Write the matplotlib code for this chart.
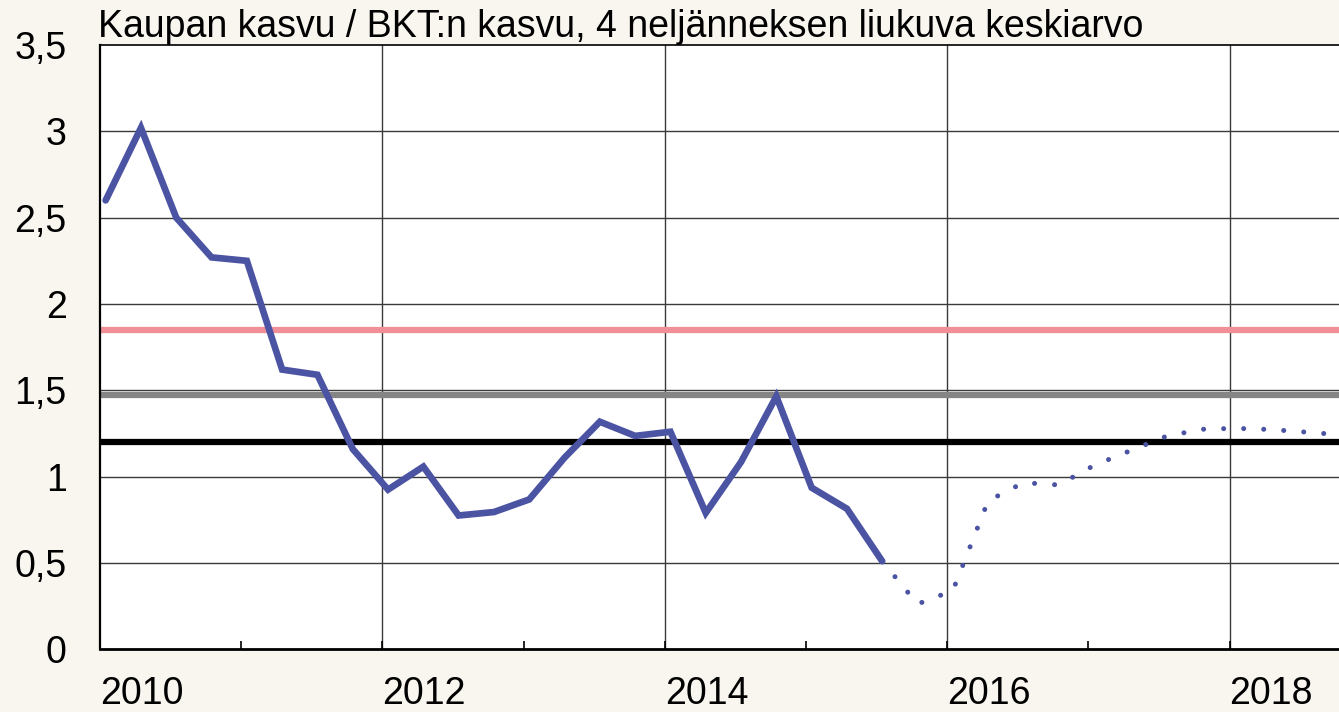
import matplotlib
matplotlib.use("Agg")
import matplotlib.pyplot as plt
import numpy as np
from matplotlib.ticker import FixedLocator, FuncFormatter

plt.rcParams['font.family'] = ['Liberation Sans', 'DejaVu Sans']

# neljännesvuosittaiset havainnot (4 nelj. liukuva keskiarvo)
toteutunut = [2.60, 3.02, 2.50, 2.27, 2.25, 1.62, 1.59, 1.16, 0.925, 1.058, 0.775, 0.795,
              0.868, 1.11, 1.318, 1.236, 1.26, 0.79, 1.085, 1.465, 0.936, 0.814, 0.51]
ennuste = [0.51, 0.262, 0.34, 0.86, 0.965, 0.952, 1.065, 1.148, 1.23, 1.274, 1.28,
           1.273, 1.258, 1.242]
alku = 2010.04          # ensimmäinen neljännes
ennuste_alku = 2015.54  # ennusteen alku (viimeinen havainto)

# vaakaviivat
taso_pinkki = 1.85
taso_harmaa = 1.475
taso_musta = 1.2

otsikko = "Kaupan kasvu / BKT:n kasvu, 4 neljänneksen liukuva keskiarvo"
vuodet = [2010, 2012, 2014, 2016, 2018]
y_ticks = [0, 0.5, 1, 1.5, 2, 2.5, 3, 3.5]

t1 = alku + 0.25 * np.arange(len(toteutunut))
t2 = ennuste_alku + 0.25 * np.arange(len(ennuste))

fig = plt.figure(figsize=(13.39, 7.12), dpi=100)
fig.patch.set_facecolor('#f9f5ef')
ax = fig.add_axes([100 / 1339, 1 - 649.3 / 712, 1 - 100 / 1339, (649.3 - 45) / 712])
ax.set_facecolor('white')

ax.set_xlim(2010, 2010 + 1239 / 141.2)
ax.set_ylim(0, 3.5)

# ruudukko
for v in y_ticks[1:-1]:
    ax.axhline(v, color='#3a3a3a', lw=1.0, zorder=1)
for yr in vuodet[1:]:
    ax.axvline(yr, color='#3a3a3a', lw=1.0, zorder=1)

ax.axhline(taso_pinkki, color='#f08f97', lw=4.5, zorder=2)
ax.axhline(taso_harmaa, color='#858585', lw=4.5, zorder=2)
ax.axhline(taso_musta, color='black', lw=4.5, zorder=2)

ax.plot(t1, toteutunut, color='#4b53a3', lw=4.8, solid_joinstyle='miter',
        solid_capstyle='round', zorder=4)
ax.plot(t2, ennuste, color='#4b53a3', lw=3.6, linestyle=(0.01, (0.01, 4.0)),
        dash_capstyle='round', zorder=4)

ax.spines['right'].set_visible(False)
ax.spines['bottom'].set_linewidth(2.0)
ax.spines['left'].set_linewidth(1.6)
ax.spines['top'].set_linewidth(1.2)

ax.xaxis.set_major_locator(FixedLocator(vuodet))
ax.xaxis.set_minor_locator(FixedLocator([2011, 2013, 2015, 2017]))
ax.xaxis.set_major_formatter(FuncFormatter(lambda x, p: "%d" % x))
ax.tick_params(axis='x', which='both', direction='in', length=5.8, width=1.2,
               labelsize=27, pad=19, top=False)
for lab in ax.get_xticklabels():
    lab.set_horizontalalignment('left')

ax.yaxis.set_major_locator(FixedLocator(y_ticks))
ax.yaxis.set_major_formatter(FuncFormatter(lambda v, p: ("%g" % v).replace('.', ',')))
ax.tick_params(axis='y', length=0, labelsize=27, pad=24)

fig.text(98 / 1339, 1 - 37 / 712, otsikko, fontsize=27, ha='left', va='baseline')

fig.savefig('out.png', dpi=100, facecolor=fig.get_facecolor())
